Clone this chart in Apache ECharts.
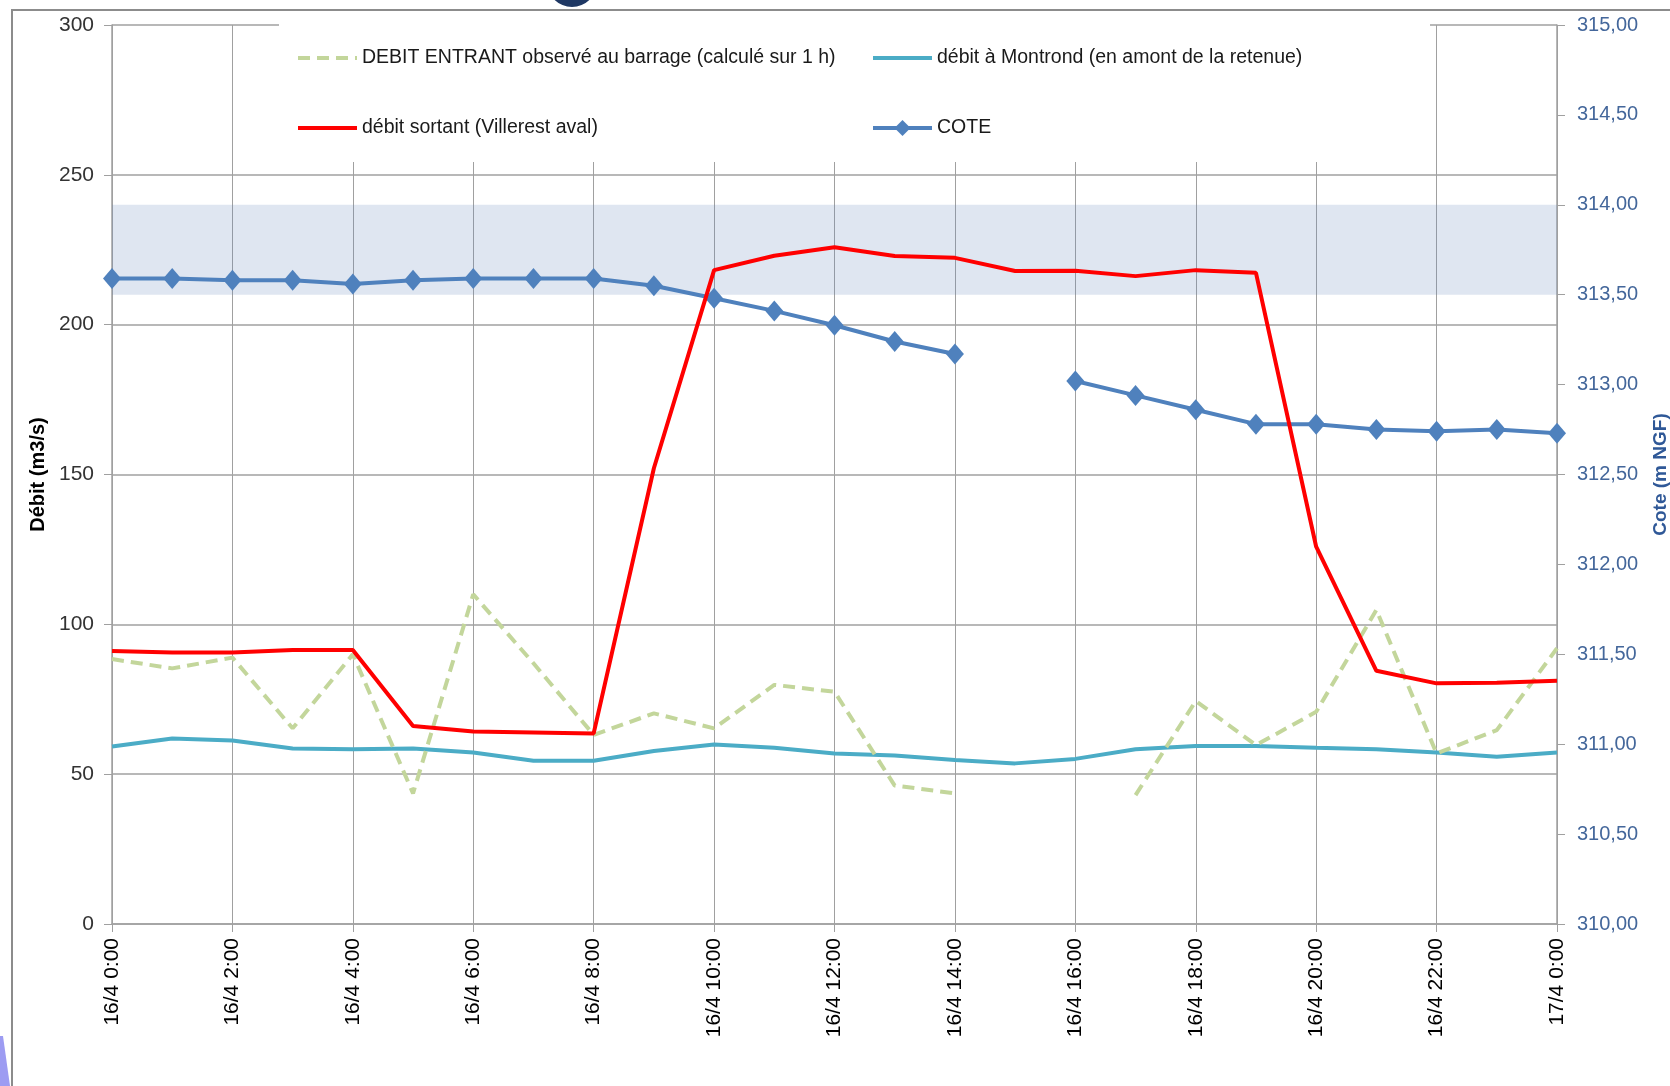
<!DOCTYPE html>
<html>
<head>
<meta charset="utf-8">
<script src="https://cdn.jsdelivr.net/npm/echarts@6/dist/echarts.min.js"></script>
<style>
  html, body { margin: 0; padding: 0; background: #fff; }
  #chart { width: 1670px; height: 1086px; }
</style>
</head>
<body>
<div id="chart"></div>
<script>
// heures (pas horaire) du 16/4 0:00 au 17/4 0:00
const hours = [
  '16/4 0:00', '16/4 1:00', '16/4 2:00', '16/4 3:00', '16/4 4:00', '16/4 5:00',
  '16/4 6:00', '16/4 7:00', '16/4 8:00', '16/4 9:00', '16/4 10:00', '16/4 11:00',
  '16/4 12:00', '16/4 13:00', '16/4 14:00', '16/4 15:00', '16/4 16:00', '16/4 17:00',
  '16/4 18:00', '16/4 19:00', '16/4 20:00', '16/4 21:00', '16/4 22:00', '16/4 23:00',
  '17/4 0:00'
]

// m3/s
const debitEntrant = [88.4, 85.3, 88.9, 65.3, 90.0, 43.6, 110.0, 87.0, 63.1, 70.3, 65.3, 79.8,
  77.5, 46.2, 43.6, null, null, 43.0, 74.4, 59.7, 70.8, 104.8, 56.9, 64.7, 92.0]
const debitMontrond = [59.2, 61.9, 61.2, 58.6, 58.3, 58.6, 57.2, 54.5, 54.5, 57.7, 59.9, 58.8,
  56.9, 56.2, 54.7, 53.6, 55.1, 58.3, 59.4, 59.4, 58.8, 58.3, 57.2, 55.8, 57.2]
const debitSortant = [91.1, 90.6, 90.6, 91.4, 91.4, 66.1, 64.2, 63.9, 63.6, 152.1, 218.2, 223.0,
  225.8, 222.9, 222.3, 217.9, 218.0, 216.2, 218.2, 217.3, 125.9, 84.5, 80.3, 80.5, 81.2]

// m NGF
const cote = [313.59, 313.59, 313.58, 313.58, 313.56, 313.58, 313.59, 313.59, 313.59, 313.55, 313.48, 313.41,
  313.33, 313.24, 313.17, null, 313.02, 312.94, 312.86, 312.78, 312.78, 312.75, 312.74, 312.75, 312.73]

// bande grisée (échelle débit)
const bande = [210, 240]

const names = [
  'DEBIT ENTRANT observé au barrage (calculé sur 1 h)',
  'débit à Montrond (en amont de la retenue)',
  'débit sortant (Villerest aval)',
  'COTE'
]

const font = 'Liberation Sans'
const gridColor = '#a0a0a0'

const legendAt = (name, left, top, hideSymbol) => ({
  data: [name],
  left: left,
  top: top,
  padding: 0,
  itemWidth: 59,
  itemHeight: 20,
  itemStyle: hideSymbol ? { opacity: 0 } : {},
  lineStyle: { width: 4 },
  textStyle: { fontFamily: font, fontSize: 19.5, color: '#1a1a1a' },
  selectedMode: false
})

const chart = echarts.init(document.getElementById('chart'))
chart.setOption({
  animation: false,
  backgroundColor: '#fff',
  grid: { left: 112, right: 113, top: 25, bottom: 162, outerBoundsMode: 'none' },
  legend: [
    legendAt(names[0], 296, 48, true),
    legendAt(names[1], 871, 48, true),
    legendAt(names[2], 296, 118, true),
    legendAt(names[3], 871, 118, false)
  ],
  graphic: [
    // cadre
    { type: 'rect', shape: { x: 12, y: 10, width: 1700, height: 1120 },
      style: { fill: 'none', stroke: '#8c8c8c', lineWidth: 2 }, z: 10 },
    // fond de légende
    { type: 'rect', shape: { x: 279, y: 12, width: 1151, height: 150 },
      style: { fill: '#fff' }, z: 1 },
    // morceaux de la diapo autour
    { type: 'ring', shape: { cx: 572, cy: -18, r: 25, r0: 16 },
      style: { fill: '#1f3864' }, z: 10 },
    { type: 'polygon', shape: { points: [[0, 1036], [3, 1036], [10, 1086], [0, 1086]] },
      style: { fill: '#9d9cf2' }, z: 10 }
  ],
  xAxis: {
    type: 'category',
    data: hours,
    boundaryGap: false,
    axisLine: { lineStyle: { color: gridColor, width: 1.5 } },
    axisTick: { interval: 1, length: 8, lineStyle: { color: gridColor } },
    splitLine: { show: true, interval: 1, lineStyle: { color: gridColor, width: 1 } },
    axisLabel: { interval: 1, rotate: 90, margin: 14, color: '#000', fontFamily: font, fontSize: 21 }
  },
  yAxis: [
    {
      type: 'value',
      min: 0, max: 300, interval: 50,
      name: 'Débit (m3/s)',
      nameLocation: 'middle',
      nameGap: 63,
      nameTextStyle: { fontFamily: font, fontSize: 20, fontWeight: 'bold', color: '#000' },
      axisLine: { show: true, lineStyle: { color: gridColor, width: 1.5 } },
      axisTick: { show: true, length: 8, lineStyle: { color: gridColor } },
      splitLine: { lineStyle: { color: gridColor, width: 1.5 } },
      axisLabel: { margin: 18, color: '#333', fontFamily: font, fontSize: 21 }
    },
    {
      type: 'value',
      min: 310, max: 315, interval: 0.5,
      position: 'right',
      name: 'Cote (m NGF)',
      nameLocation: 'middle',
      nameGap: 94,
      nameTextStyle: { fontFamily: font, fontSize: 19, fontWeight: 'bold', color: '#2f5897' },
      axisLine: { show: true, lineStyle: { color: gridColor, width: 1.5 } },
      axisTick: { show: true, length: 8, lineStyle: { color: gridColor } },
      splitLine: { show: false },
      axisLabel: {
        margin: 20, color: '#44679b', fontFamily: font, fontSize: 20,
        formatter: v => v.toFixed(2).replace('.', ',')
      }
    }
  ],
  series: [
    {
      name: names[3],
      type: 'line',
      yAxisIndex: 1,
      data: cote,
      symbol: 'diamond',
      symbolSize: [18, 21],
      itemStyle: { color: '#4f81bd' },
      lineStyle: { color: '#4f81bd', width: 4 },
      z: 2
    },
    {
      name: names[1],
      type: 'line',
      data: debitMontrond,
      symbol: 'none',
      itemStyle: { color: '#4bacc6' },
      lineStyle: { color: '#4bacc6', width: 4 },
      z: 3
    },
    {
      name: names[0],
      type: 'line',
      data: debitEntrant,
      symbol: 'none',
      itemStyle: { color: '#c3d69b' },
      lineStyle: { color: '#c3d69b', width: 4, type: [12, 7] },
      z: 4
    },
    {
      name: names[2],
      type: 'line',
      data: debitSortant,
      symbol: 'none',
      itemStyle: { color: '#ff0000' },
      lineStyle: { color: '#ff0000', width: 4 },
      z: 5,
      markArea: {
        silent: true,
        itemStyle: { color: 'rgba(95,130,185,0.2)' },
        data: [[{ xAxis: hours[0], yAxis: bande[0] }, { xAxis: hours[hours.length - 1], yAxis: bande[1] }]]
      }
    }
  ]
})
</script>
</body>
</html>
